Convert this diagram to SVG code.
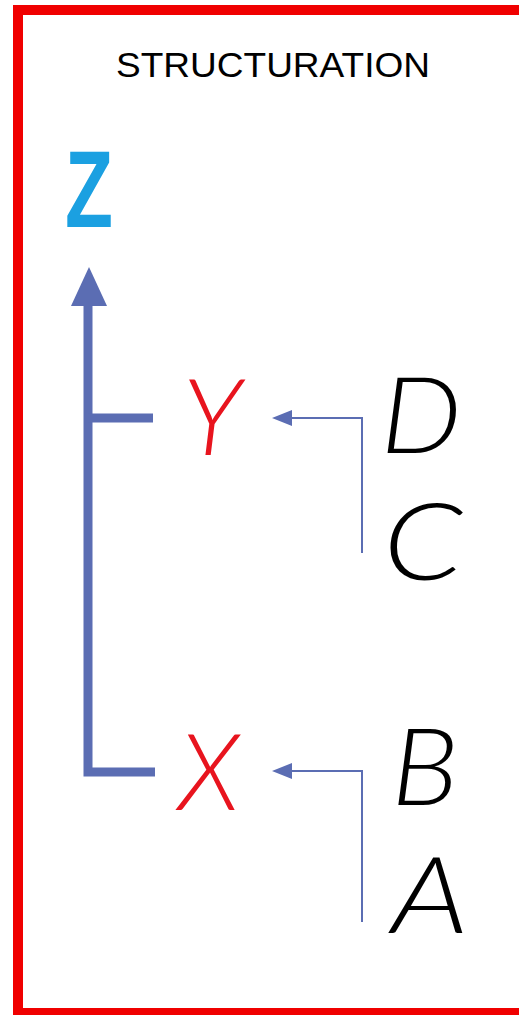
<svg xmlns="http://www.w3.org/2000/svg" width="519" height="1015" viewBox="0 0 519 1015">
<style>
.frame{fill:none;stroke:#F00000;stroke-width:10}
.title{font-family:"Liberation Sans",Arial,sans-serif;font-size:35px;fill:#000;text-anchor:middle}
.axis{fill:none;stroke:#5B6DB3;stroke-width:9}
.head{fill:#5B6DB3}
.thin{fill:none;stroke:#5B6DB3;stroke-width:2}
.z{font-family:"Liberation Sans",Arial,sans-serif;font-weight:bold;font-size:110px;fill:#1BA0E1;text-anchor:middle}
.var{font-family:Lato,"Open Sans","Liberation Sans",sans-serif;font-weight:300;font-style:italic;font-size:106px;text-anchor:middle}
.red{fill:#E8141E}
.blk{fill:#000}
</style>
<rect class="frame" x="18" y="10" width="530" height="1003"/>
<text class="title" x="273" y="77" textLength="314" lengthAdjust="spacingAndGlyphs">STRUCTURATION</text>
<g id="connectors">
  <path class="axis" d="M155,772 H88 V300"/>
  <path class="axis" d="M88,418 H153"/>
  <polygon class="head" points="71,306 89,267 107,306"/>
  <path class="thin" d="M362,553 V418 H288"/>
  <polygon class="head" points="272,418 292,410 292,426"/>
  <path class="thin" d="M362,922 V771 H288"/>
  <polygon class="head" points="272,771 292,763 292,779"/>
</g>
<g id="node-Z"><text class="z" x="89" y="227" textLength="48" lengthAdjust="spacingAndGlyphs">Z</text></g>
<g id="node-Y"><text class="var red" x="212" y="455">Y</text></g>
<g id="node-X"><text class="var red" x="209" y="810">X</text></g>
<g id="node-D"><text class="var blk" x="421" y="453" transform="translate(421 0) scale(1.08 1) translate(-421 0)">D</text></g>
<g id="node-C"><text class="var blk" x="423" y="580" transform="translate(423 0) scale(1.2 1) translate(-423 0)">C</text></g>
<g id="node-B"><text class="var blk" x="425" y="805" transform="translate(425 0) scale(1.08 1) translate(-425 0)">B</text></g>
<g id="node-A"><text class="var blk" x="430" y="933" transform="translate(430 0) scale(1.2 1) translate(-430 0)">A</text></g>
</svg>
